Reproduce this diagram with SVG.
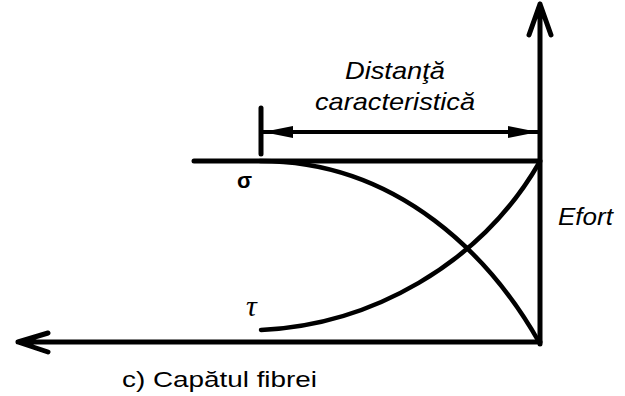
<svg xmlns="http://www.w3.org/2000/svg" width="625" height="396" viewBox="0 0 625 396">
<defs>
<style>
.ax{stroke:#000;stroke-width:5;fill:none;stroke-linecap:round;stroke-linejoin:round}
.cv{stroke:#000;stroke-width:4.5;fill:none;stroke-linecap:round}
.lbl{font-family:"Liberation Sans",Arial,sans-serif;font-style:italic;fill:#000}
.cap{font-family:"Liberation Sans",Arial,sans-serif;fill:#000}
</style>
<marker id="tri" viewBox="0 0 30 12" refX="30" refY="6" markerWidth="30" markerHeight="12" markerUnits="userSpaceOnUse" orient="auto-start-reverse">
<path d="M0,0 L30,6 L0,12 Z" fill="#000"/>
</marker>
</defs>
<rect width="625" height="396" fill="#fff"/>
<g id="connectors">
<path id="axis-y" class="ax" d="M540,344 L540,4 M529,35 L540,4 L551,35"/>
<path id="axis-x" class="ax" d="M540,342 L18,342 M48,333 L18,342 L48,352"/>
<path id="fiber-line" class="ax" d="M194,161 L540,161"/>
<path id="tick" class="ax" d="M261,108 L261,154"/>
<line id="dim-arrow" x1="263" y1="132" x2="538" y2="132" stroke="#000" stroke-width="4" marker-start="url(#tri)" marker-end="url(#tri)"/>
<path id="sigma-curve" class="cv" d="M260,161 C400,161 492,259 539,342"/>
<path id="tau-curve" class="cv" d="M261,330 C370,325 480,265 539,163"/>
</g>
<g id="label-dist">
<text class="lbl" x="345" y="79" font-size="24" textLength="100" lengthAdjust="spacingAndGlyphs">Distanţă</text>
<text class="lbl" x="315" y="110" font-size="24" textLength="160" lengthAdjust="spacingAndGlyphs">caracteristică</text>
</g>
<g id="label-sigma"><text class="cap" x="237" y="188" font-size="22" font-weight="bold">σ</text></g>
<g id="label-tau"><text x="246" y="316" font-family="'Liberation Serif','Times New Roman',serif" font-style="italic" font-size="30" fill="#000">τ</text></g>
<g id="label-efort"><text class="lbl" x="558" y="225" font-size="23" textLength="55" lengthAdjust="spacingAndGlyphs">Efort</text></g>
<g id="caption"><text class="cap" x="122" y="387" font-size="22" textLength="195" lengthAdjust="spacingAndGlyphs">c) Capătul fibrei</text></g>
</svg>
